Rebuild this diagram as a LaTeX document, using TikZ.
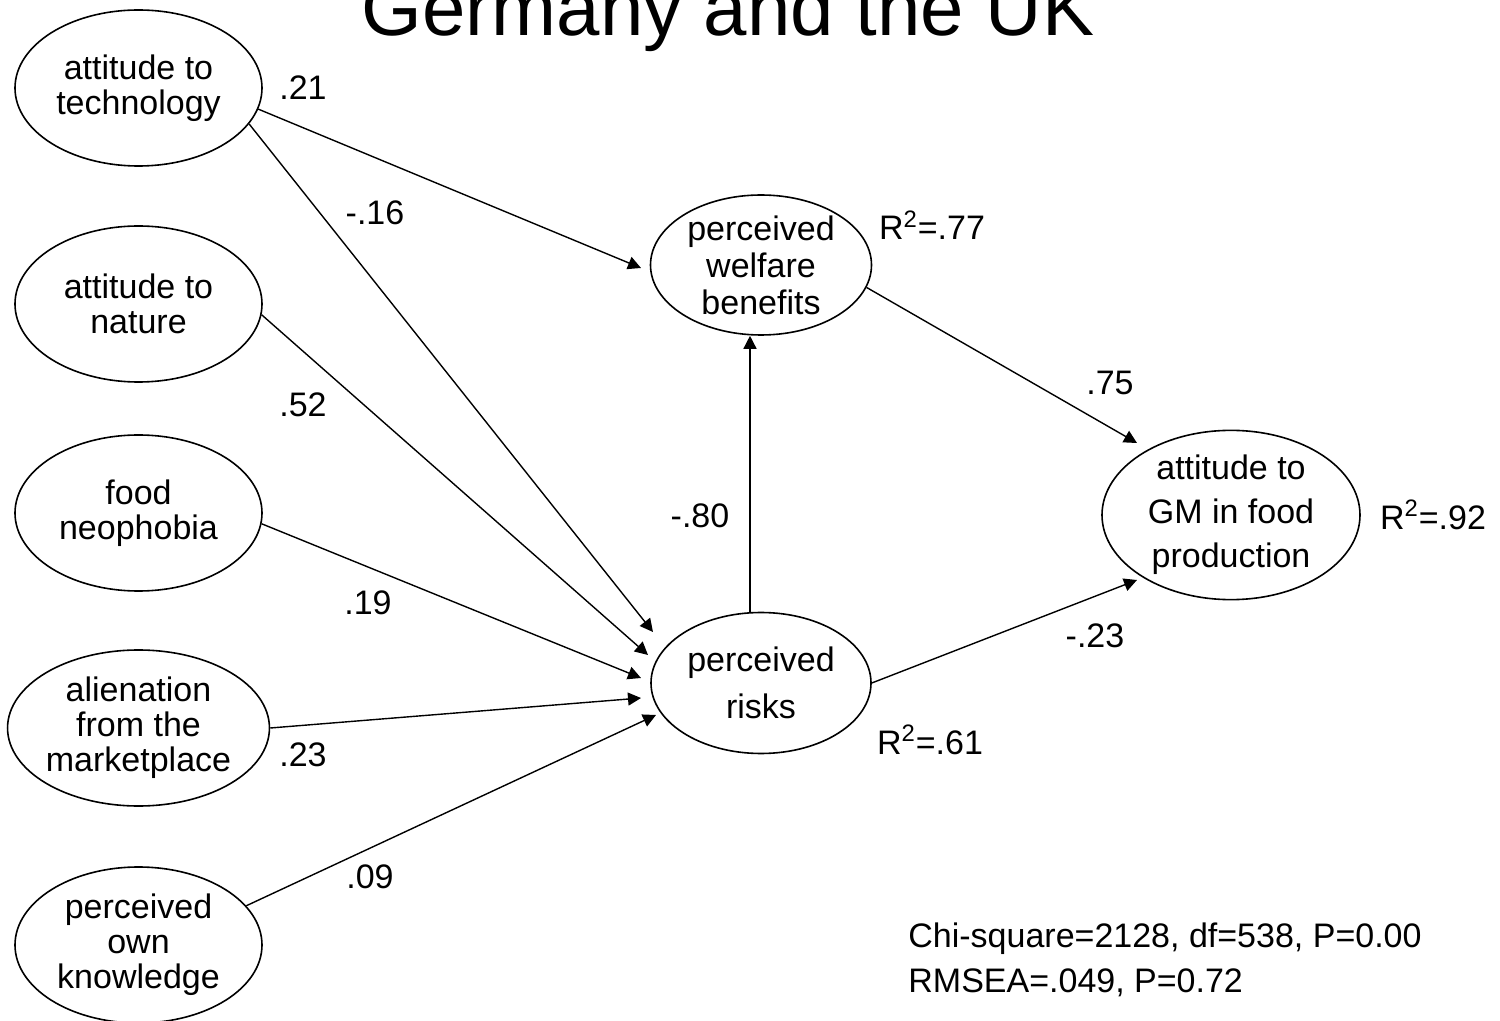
\documentclass[tikz,border=0pt]{standalone}
\usepackage{fontspec}
\setmainfont{Liberation Sans}
\usetikzlibrary{shapes.geometric,arrows.meta}
\begin{document}
\begin{tikzpicture}[x=0.5pt,y=-0.5pt,
  lat/.style={ellipse, draw, line width=0.8pt, inner sep=0pt, align=center},
  leftlat/.style={lat, minimum width=123.5pt, minimum height=78pt,
    font=\fontsize{17}{17.5}\selectfont},
  link/.style={line width=0.7pt, -{Triangle[length=6.5pt,width=6.5pt]}},
  coef/.style={font=\fontsize{17}{20}\selectfont, inner sep=0pt},
]
\useasboundingbox (0,0) rectangle (1500,1021);

% heading, cut off by the top edge
\begin{scope}
  \clip (0,0) rectangle (1500,1021);
  \node[anchor=base, font=\fontsize{39}{40}\selectfont, inner sep=0pt] (title)
    at (728,36) {Germany and the UK};
\end{scope}

% exogenous constructs
\node[leftlat] (e1) at (138.5,88)  {attitude to\\technology};
\node[leftlat] (e2) at (138.5,304) {attitude to\\nature};
\node[leftlat] (e3) at (138.5,513) {food\\neophobia};
\node[leftlat] (e4) at (138.5,728) {alienation\\from the\\marketplace};
\node[leftlat] (e5) at (138.5,945) {perceived\\own\\knowledge};

% mediators and outcome
\node[lat, minimum width=110.5pt, minimum height=70pt,
  font=\fontsize{17}{18.5}\selectfont] (e6) at (761,265)
  {perceived\\welfare\\benefits};
\node[lat, minimum width=110pt, minimum height=70.5pt,
  font=\fontsize{17}{23.5}\selectfont] (e7) at (761,683)
  {perceived\\risks};
\node[lat, minimum width=129pt, minimum height=82pt,
  font=\fontsize{17}{22}\selectfont] (e8) at (1231,515)
  {attitude to\\GM in food\\production};

% structural paths
\draw[link] (e1.-10) -- ([shift={(-120,3)}]e6.center);
\draw[link] (e1.-18) -- ([shift={(-108,-51)}]e7.center);
\draw[link] (e2.-5)  -- ([shift={(-113,-28)}]e7.center);
\draw[link] (e3.-5)  -- ([shift={(-120,-5)}]e7.center);
\draw[link] (e4.east) -- ([shift={(-120,15)}]e7.center);
\draw[link] (e5.20)  -- ([shift={(-105,32)}]e7.center);
\draw[link] ([xshift=-5.5pt]e7.north) -- ([xshift=-5.5pt]e6.south);
\draw[link] (e6.-12) -- ([shift={(-94,-72)}]e8.center);
\draw[link] (e7.east) -- ([shift={(-94,65)}]e8.center);

% path coefficients
\node[coef] (c1) at (303,88)   {.21};
\node[coef] (c2) at (375,213)  {-.16};
\node[coef] (c3) at (303,405)  {.52};
\node[coef] (c4) at (368,603)  {.19};
\node[coef] (c5) at (303,755)  {.23};
\node[coef] (c6) at (370,877)  {.09};
\node[coef] (c7) at (700,516)  {-.80};
\node[coef] (c8) at (1110,383) {.75};
\node[coef] (c9) at (1095,636) {-.23};

% explained variance
\node[coef] (r6) at (932,225)  {R\textsuperscript{2}=.77};
\node[coef] (r7) at (930,740)  {R\textsuperscript{2}=.61};
\node[coef] (r8) at (1433,515) {R\textsuperscript{2}=.92};

% fit statistics
\node[coef, anchor=west, align=left, font=\fontsize{17}{22.5}\selectfont]
  (fit) at (908,959.5) {Chi-square=2128, df=538, P=0.00\\RMSEA=.049, P=0.72};
\end{tikzpicture}
\end{document}
